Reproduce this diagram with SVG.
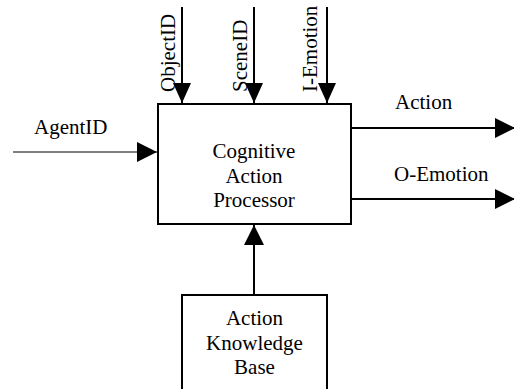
<svg xmlns="http://www.w3.org/2000/svg" width="514" height="389" viewBox="0 0 514 389">
<style>
text{font-family:"Liberation Serif","Times New Roman",serif;font-size:21px;fill:#000}
.c{text-anchor:middle}
.box{fill:#fff;stroke:#000;stroke-width:2}
.ln{stroke:#000;stroke-width:2;fill:none}
.thin{stroke:#000;stroke-width:1;fill:none}
</style>
<defs>
<marker id="ah" viewBox="0 0 20 20" refX="20" refY="10" markerWidth="20" markerHeight="20" markerUnits="userSpaceOnUse" orient="auto"><path d="M0,0 L20,10 L0,20 z" fill="#000"/></marker>
<marker id="ahv" viewBox="0 0 20 18" refX="20" refY="9" markerWidth="20" markerHeight="18" markerUnits="userSpaceOnUse" orient="auto"><path d="M0,0 L20,9 L0,18 z" fill="#000"/></marker>
</defs>
<g id="connectors">
<line class="thin" x1="13" y1="152" x2="157" y2="152" marker-end="url(#ah)"/>
<line class="ln" x1="182" y1="7" x2="182" y2="103" marker-end="url(#ahv)"/>
<line class="ln" x1="254" y1="7" x2="254" y2="103" marker-end="url(#ahv)"/>
<line class="ln" x1="327" y1="7" x2="327" y2="103" marker-end="url(#ahv)"/>
<line class="ln" x1="351" y1="128" x2="515" y2="128" marker-end="url(#ah)"/>
<line class="ln" x1="351" y1="199" x2="515" y2="199" marker-end="url(#ah)"/>
<line class="ln" x1="254" y1="295" x2="254" y2="225" marker-end="url(#ah)"/>
<text x="34" y="134">AgentID</text>
<text x="175" y="92" transform="rotate(-90 175 92)">ObjectID</text>
<text x="247" y="92" transform="rotate(-90 247 92)">SceneID</text>
<text x="317" y="92" transform="rotate(-90 317 92)">I-Emotion</text>
<text x="395" y="109">Action</text>
<text x="394" y="181">O-Emotion</text>
</g>
<g id="cap">
<rect class="box" x="158" y="104" width="193" height="120"/>
<text class="c" x="254" y="158">Cognitive</text>
<text class="c" x="254" y="183">Action</text>
<text class="c" x="254" y="207">Processor</text>
</g>
<g id="akb">
<rect class="box" x="182" y="295" width="145" height="100"/>
<text class="c" x="254.5" y="325">Action</text>
<text class="c" x="254.5" y="350">Knowledge</text>
<text class="c" x="254.5" y="374">Base</text>
</g>
</svg>
